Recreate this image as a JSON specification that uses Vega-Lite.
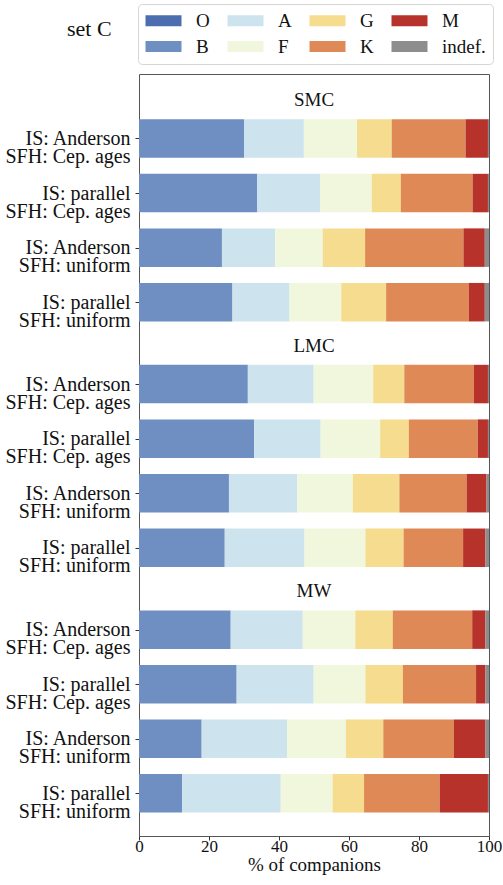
{
  "$schema": "https://vega.github.io/schema/vega-lite/v6.json",
  "width": 350,
  "height": 762,
  "autosize": {"type": "none"},
  "padding": {"left": 139, "top": 74, "right": 14, "bottom": 49},
  "title": {
    "text": "set C",
    "anchor": "start",
    "frame": "group",
    "dx": -72,
    "offset": 0,
    "dy": 54,
    "baseline": "alphabetic",
    "font": "Liberation Serif",
    "fontSize": 22,
    "fontWeight": "normal",
    "color": "#111"
  },
  "config": {
    "view": {"stroke": "#555", "strokeWidth": 1},
    "font": "Liberation Serif"
  },
  "datasets": {
    "fractions": [
      {"galaxy": "SMC", "IS": "Anderson", "SFH": "Cep. ages", "O": 0, "B": 30.0, "A": 17.1, "F": 15.2, "G": 9.9, "K": 21.1, "M": 6.4, "indef": 0.3},
      {"galaxy": "SMC", "IS": "parallel", "SFH": "Cep. ages", "O": 0, "B": 33.8, "A": 18.0, "F": 14.7, "G": 8.3, "K": 20.5, "M": 4.4, "indef": 0.3},
      {"galaxy": "SMC", "IS": "Anderson", "SFH": "uniform", "O": 0, "B": 23.7, "A": 15.2, "F": 13.6, "G": 12.1, "K": 28.1, "M": 6.1, "indef": 1.2},
      {"galaxy": "SMC", "IS": "parallel", "SFH": "uniform", "O": 0, "B": 26.7, "A": 16.3, "F": 14.8, "G": 12.8, "K": 23.6, "M": 4.6, "indef": 1.2},
      {"galaxy": "LMC", "IS": "Anderson", "SFH": "Cep. ages", "O": 0, "B": 31.1, "A": 18.8, "F": 17.0, "G": 8.9, "K": 19.9, "M": 4.0, "indef": 0.3},
      {"galaxy": "LMC", "IS": "parallel", "SFH": "Cep. ages", "O": 0, "B": 32.9, "A": 19.0, "F": 17.0, "G": 8.2, "K": 19.7, "M": 2.9, "indef": 0.3},
      {"galaxy": "LMC", "IS": "Anderson", "SFH": "uniform", "O": 0, "B": 25.7, "A": 19.5, "F": 15.9, "G": 13.3, "K": 19.2, "M": 5.7, "indef": 0.7},
      {"galaxy": "LMC", "IS": "parallel", "SFH": "uniform", "O": 0, "B": 24.5, "A": 22.8, "F": 17.4, "G": 10.9, "K": 17.0, "M": 6.4, "indef": 1.0},
      {"galaxy": "MW", "IS": "Anderson", "SFH": "Cep. ages", "O": 0, "B": 26.2, "A": 20.6, "F": 15.0, "G": 10.7, "K": 22.7, "M": 3.8, "indef": 1.0},
      {"galaxy": "MW", "IS": "parallel", "SFH": "Cep. ages", "O": 0, "B": 27.9, "A": 22.0, "F": 14.8, "G": 10.7, "K": 20.9, "M": 2.7, "indef": 1.0},
      {"galaxy": "MW", "IS": "Anderson", "SFH": "uniform", "O": 0, "B": 17.9, "A": 24.4, "F": 16.8, "G": 10.7, "K": 20.2, "M": 9.0, "indef": 1.0},
      {"galaxy": "MW", "IS": "parallel", "SFH": "uniform", "O": 0, "B": 12.3, "A": 28.2, "F": 14.8, "G": 9.0, "K": 21.6, "M": 13.8, "indef": 0.3}
    ],
    "galaxies": [
      {"galaxy": "SMC"},
      {"galaxy": "LMC"},
      {"galaxy": "MW"}
    ]
  },
  "layer": [
    {
      "data": {"name": "fractions"},
      "transform": [
        {"fold": ["O", "B", "A", "F", "G", "K", "M", "indef"], "as": ["type", "pct"]},
        {"calculate": "indexof(['SMC','LMC','MW'], datum.galaxy) * 4.5 + indexof(['Anderson|Cep. ages','parallel|Cep. ages','Anderson|uniform','parallel|uniform'], datum.IS + '|' + datum.SFH)", "as": "slot"},
        {"calculate": "indexof(['O','B','A','F','G','K','M','indef'], datum.type)", "as": "rank"}
      ],
      "mark": {"type": "bar", "orient": "horizontal", "size": 38.5},
      "encoding": {
        "x": {
          "field": "pct",
          "type": "quantitative",
          "stack": "zero",
          "scale": {"domain": [0, 100], "nice": false},
          "axis": {
            "values": [0, 20, 40, 60, 80, 100],
            "title": "% of companions",
            "titleFont": "Liberation Serif",
            "titleFontSize": 19,
            "titleFontWeight": "normal",
            "titleColor": "#111",
            "titlePadding": 1,
            "labelFont": "Liberation Serif",
            "labelFontSize": 17,
            "labelColor": "#111",
            "labelPadding": -2,
            "labelFlush": false,
            "tickSize": 4,
            "tickColor": "#333",
            "domain": false,
            "grid": false
          }
        },
        "y": {
          "field": "slot",
          "type": "quantitative",
          "scale": {"domain": [-1.09, 12.69], "reverse": true, "nice": false, "zero": false},
          "axis": {
            "values": [0, 1, 2, 3, 4.5, 5.5, 6.5, 7.5, 9, 10, 11, 12],
            "title": null,
            "labelExpr": "[(datum.value % 4.5) % 2 == 0 ? 'IS: Anderson' : 'IS: parallel', (datum.value % 4.5) < 2 ? 'SFH: Cep. ages' : 'SFH: uniform']",
            "labelFont": "Liberation Serif",
            "labelFontSize": 20,
            "labelLineHeight": 18,
            "labelColor": "#111",
            "labelAlign": "right",
            "labelBaseline": "middle",
            "labelPadding": 5,
            "tickSize": 4,
            "tickColor": "#333",
            "domain": false,
            "grid": false
          }
        },
        "color": {
          "field": "type",
          "type": "nominal",
          "scale": {
            "domain": ["O", "A", "G", "M", "B", "F", "K", "indef"],
            "range": ["#4c6db0", "#cde3ee", "#f5dc8e", "#b8322c", "#6f8fc2", "#f1f7dc", "#df8a56", "#8d8d8d"]
          },
          "legend": {
            "orient": "none",
            "legendX": -1,
            "legendY": -70,
            "direction": "horizontal",
            "columns": 4,
            "gridAlign": "each",
            "title": null,
            "symbolType": "M-1,-0.6H3V0.6H-1Z",
            "symbolSize": 324,
            "symbolStrokeWidth": 0,
            "symbolOpacity": 1,
            "labelFont": "Liberation Serif",
            "labelFontSize": 19,
            "labelColor": "#111",
            "labelOffset": 32,
            "labelExpr": "datum.label == 'indef' ? 'indef.' : datum.label",
            "columnPadding": 17,
            "rowPadding": 6,
            "padding": 7,
            "strokeColor": "#d5d5d5",
            "fillColor": "white",
            "cornerRadius": 4
          }
        },
        "order": {"field": "rank", "type": "quantitative"}
      }
    },
    {
      "data": {"name": "galaxies"},
      "transform": [
        {"calculate": "indexof(['SMC','LMC','MW'], datum.galaxy) * 4.5 - 0.7", "as": "slot"}
      ],
      "mark": {"type": "text", "font": "Liberation Serif", "fontSize": 19, "baseline": "middle", "align": "center", "color": "#111"},
      "encoding": {
        "x": {"datum": 50, "type": "quantitative"},
        "y": {"field": "slot", "type": "quantitative"},
        "text": {"field": "galaxy"}
      }
    }
  ]
}
